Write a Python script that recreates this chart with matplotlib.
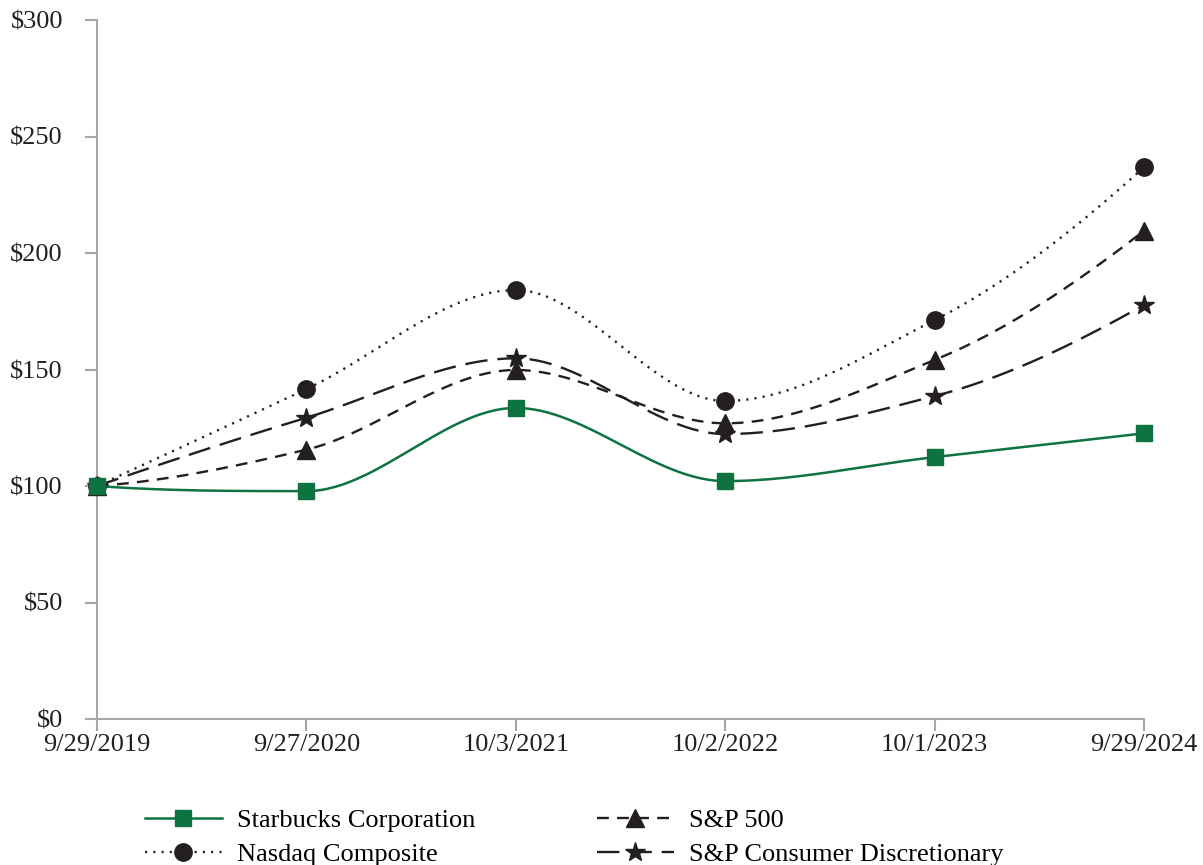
import numpy as np
import matplotlib
matplotlib.use("Agg")
import matplotlib.pyplot as plt
from matplotlib.lines import Line2D

dates = ["9/29/2019", "9/27/2020", "10/3/2021", "10/2/2022", "10/1/2023", "9/29/2024"]
starbucks = [100.0, 97.8, 133.5, 102.1, 112.4, 122.6]
sp500 = [100.0, 115.6, 149.8, 126.9, 154.1, 209.5]
nasdaq = [100.0, 141.6, 184.1, 136.5, 171.2, 236.8]
sp_cd = [100.0, 129.3, 154.8, 122.3, 138.6, 177.7]
yticks = [0, 50, 100, 150, 200, 250, 300]

GREEN = "#0e7241"
DARK = "#231f20"
GREY = "#a6a6a8"

plt.rcParams['font.family'] = ['Liberation Serif', 'DejaVu Serif']


def smooth(x, y, n=60):
    # monotone (PCHIP-style) cubic Hermite smoothing of the drawn line
    x = np.asarray(x, float)
    y = np.asarray(y, float)
    h = np.diff(x)
    dl = np.diff(y) / h
    m = len(x)
    d = np.zeros(m)
    for k in range(1, m - 1):
        if dl[k - 1] * dl[k] > 0:
            w1 = 2 * h[k] + h[k - 1]
            w2 = h[k] + 2 * h[k - 1]
            d[k] = (w1 + w2) / (w1 / dl[k - 1] + w2 / dl[k])
    def end(h0, h1, d0, d1):
        v = ((2 * h0 + h1) * d0 - h0 * d1) / (h0 + h1)
        if np.sign(v) != np.sign(d0):
            v = 0.0
        elif np.sign(d0) != np.sign(d1) and abs(v) > abs(3 * d0):
            v = 3 * d0
        return v
    d[0] = end(h[0], h[1], dl[0], dl[1])
    d[-1] = end(h[-1], h[-2], dl[-1], dl[-2])
    xs, ys = [], []
    for k in range(m - 1):
        t = np.linspace(0, 1, n)
        if k > 0:
            t = t[1:]
        h00 = 2 * t**3 - 3 * t**2 + 1
        h10 = t**3 - 2 * t**2 + t
        h01 = -2 * t**3 + 3 * t**2
        h11 = t**3 - t**2
        xs.append(x[k] + t * h[k])
        ys.append(h00 * y[k] + h10 * h[k] * d[k] + h01 * y[k + 1] + h11 * h[k] * d[k + 1])
    return np.concatenate(xs), np.concatenate(ys)


fig = plt.figure(figsize=(12.03, 8.65), dpi=100)
ax = fig.add_axes([97 / 1203, 1 - 719 / 865, (1144 - 97) / 1203, (719 - 20) / 865])

x = np.arange(len(dates))
series = [
    (nasdaq, "Nasdaq Composite", dict(color=DARK, ls=(0, (0.9, 2.6)), lw=1.7), dict(marker="o", ms=12.5)),
    (sp500, "S&P 500", dict(color=DARK, ls=(0, (5, 3.5)), lw=1.7), dict(marker="^", ms=12.5)),
    (sp_cd, "S&P Consumer Discretionary", dict(color=DARK, ls=(0, (9.5, 4.2)), lw=1.7), dict(marker="*", ms=15)),
    (starbucks, "Starbucks Corporation", dict(color=GREEN, ls="-", lw=1.8), dict(marker="s", ms=12)),
]
handles = {}
for vals, label, lstyle, mstyle in series:
    sx, sy = smooth(x, vals)
    ax.plot(sx, sy, clip_on=False, zorder=2, **lstyle)
    ax.plot(x, vals, ls="none", color=lstyle["color"], mec=lstyle["color"], clip_on=False, zorder=3, **mstyle)
    handles[label] = Line2D([], [], color=lstyle["color"], ls=lstyle["ls"], lw=lstyle["lw"],
                            marker=mstyle["marker"], ms=mstyle["ms"], mec=lstyle["color"])

ax.set_xlim(0, 5)
ax.set_ylim(0, 300)
ax.set_xticks(x)
ax.set_xticklabels(dates)
ax.set_yticks(yticks)
ax.set_yticklabels([f"${v}" for v in yticks])

for side in ["top", "right"]:
    ax.spines[side].set_visible(False)
for side in ["left", "bottom"]:
    ax.spines[side].set_color(GREY)
    ax.spines[side].set_linewidth(1.5)
ax.tick_params(axis="both", colors=GREY, width=1.5, length=8.5, labelsize=19, labelcolor=DARK)
ax.tick_params(axis="y", pad=16)
ax.tick_params(axis="x", pad=2)

order = ["Starbucks Corporation", "Nasdaq Composite", "S&P 500", "S&P Consumer Discretionary"]
leg = fig.legend([handles[k] for k in order], order, ncol=2, loc="upper left",
                 bbox_to_anchor=(145 / 1203, 1 - 809 / 865), frameon=False, fontsize=19,
                 handlelength=2.9, handletextpad=0.6, columnspacing=4.6, labelspacing=0.4,
                 borderaxespad=0, borderpad=0)

fig.savefig("out.png", dpi=100)
